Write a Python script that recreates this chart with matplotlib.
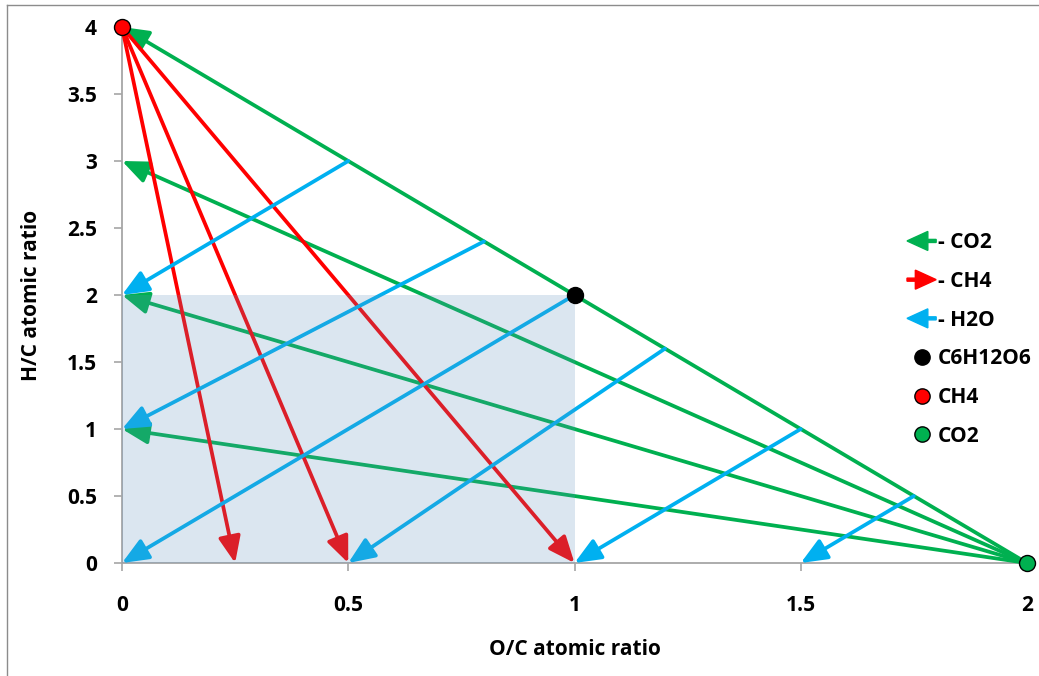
import numpy as np
from matplotlib import pyplot as plt
import matplotlib.patches as mpatches
from matplotlib.lines import Line2D
from matplotlib.legend_handler import HandlerPatch

# CO2 loss: from CO2 point (2, 0) towards the H/C axis
co2_x, co2_y = 2.0, 0.0
co2_end_y = [4, 3, 2, 1]

# CH4 loss: from CH4 point (0, 4) down to the O/C axis
ch4_x, ch4_y = 0.0, 4.0
ch4_end_x = [0.25, 0.5, 1.0]

# H2O loss
h2o_start_x = [0.5, 0.8, 1.0, 1.2, 1.5, 1.75]
h2o_start_y = [3.0, 2.4, 2.0, 1.6, 1.0, 0.5]
h2o_end_x = [0.0, 0.0, 0.0, 0.5, 1.0, 1.5]
h2o_end_y = [2.0, 1.0, 0.0, 0.0, 0.0, 0.0]

# glucose point and shaded box
glu_x, glu_y = 1.0, 2.0

xticks = [0, 0.5, 1, 1.5, 2]
xlabels = ['0', '0.5', '1', '1.5', '2']
yticks = [0, 0.5, 1, 1.5, 2, 2.5, 3, 3.5, 4]
ylabels = ['0', '0.5', '1', '1.5', '2', '2.5', '3', '3.5', '4']

green = '#00B050'
red = '#FF0000'
blue = '#00B0F0'
gray = '#A6A6A6'

plt.rcParams['font.family'] = ['Open Sans', 'DejaVu Sans']
plt.rcParams['font.weight'] = 'bold'
fs = 15

fig = plt.figure(figsize=(10.39, 6.76), dpi=100)
ax = fig.add_axes([122 / 1039, 113 / 676, 905 / 1039, 536 / 676])
ax.set_xlim(0, 2)
ax.set_ylim(0, 4)

astyle = '-|>,head_length=1.0,head_width=0.42'


def arrow(x0, y0, x1, y1, col):
    ax.annotate('', xy=(x1, y1), xytext=(x0, y0),
                arrowprops=dict(arrowstyle=astyle, color=col, lw=2.7,
                                mutation_scale=16, shrinkA=0, shrinkB=0),
                annotation_clip=False, zorder=3)


for ye in co2_end_y:
    arrow(co2_x, co2_y, 0, ye, green)
for xe in ch4_end_x:
    arrow(ch4_x, ch4_y, xe, 0, red)
for xs, ys, xe, ye in zip(h2o_start_x, h2o_start_y, h2o_end_x, h2o_end_y):
    arrow(xs, ys, xe, ye, blue)

ax.add_patch(mpatches.Rectangle((0, 0), glu_x, glu_y, facecolor=(95 / 255, 145 / 255, 190 / 255),
                                alpha=0.22, edgecolor='none', zorder=4))

ax.plot([glu_x], [glu_y], 'o', color='black', ms=11.5, zorder=6, clip_on=False)
ax.plot([ch4_x], [ch4_y], 'o', color=red, mec='black', mew=1, ms=11.5, zorder=6, clip_on=False)
ax.plot([co2_x], [co2_y], 'o', color=green, mec='black', mew=1, ms=11.5, zorder=6, clip_on=False)

for s in ['top', 'right']:
    ax.spines[s].set_visible(False)
for s in ['left', 'bottom']:
    ax.spines[s].set_color(gray)
    ax.spines[s].set_linewidth(1.3)
ax.tick_params(direction='out', length=6, width=1.2, color=gray, labelsize=fs)
ax.tick_params(axis='x', pad=17)
ax.tick_params(axis='y', pad=12)
ax.set_xticks(xticks, xlabels)
ax.set_yticks(yticks, ylabels)

ax.set_xlabel('O/C atomic ratio', fontsize=fs, fontweight='bold')
ax.set_ylabel('H/C atomic ratio', fontsize=fs, fontweight='bold')
ax.xaxis.set_label_coords(0.5, -0.142)
ax.yaxis.set_label_coords(-0.088, 0.5)


# legend with arrow glyphs
def left_arrow(legend, orig_handle, xdescent, ydescent, width, height, fontsize):
    return mpatches.FancyArrow(width, height / 2, -width, 0, width=2.2, head_width=13.7,
                               head_length=15, length_includes_head=True)


def right_arrow(legend, orig_handle, xdescent, ydescent, width, height, fontsize):
    return mpatches.FancyArrow(0, height / 2, width, 0, width=2.2, head_width=13.7,
                               head_length=15, length_includes_head=True)


h_co2 = mpatches.Patch(color=green, label='- CO2')
h_ch4 = mpatches.Patch(color=red, label='- CH4')
h_h2o = mpatches.Patch(color=blue, label='- H2O')
h_glu = Line2D([], [], ls='none', marker='o', color='black', ms=11, label='C6H12O6')
h_pch4 = Line2D([], [], ls='none', marker='o', color=red, mec='black', mew=1, ms=11, label='CH4')
h_pco2 = Line2D([], [], ls='none', marker='o', color=green, mec='black', mew=1, ms=11, label='CO2')

fig.legend(handles=[h_co2, h_ch4, h_h2o, h_glu, h_pch4, h_pco2],
           handler_map={h_co2: HandlerPatch(patch_func=left_arrow),
                        h_ch4: HandlerPatch(patch_func=right_arrow),
                        h_h2o: HandlerPatch(patch_func=left_arrow)},
           loc='center left', bbox_to_anchor=(907 / 1039, 1 - 339.5 / 676),
           frameon=False, fontsize=fs, handlelength=1.4, handletextpad=0.08,
           labelspacing=0.85, borderpad=0, borderaxespad=0)

# chart area border (left and top edges)
fig.add_artist(Line2D([7 / 1039, 7 / 1039], [0, 1 - 5 / 676], color='#8C8C8C', lw=1))
fig.add_artist(Line2D([7 / 1039, 1], [1 - 5 / 676, 1 - 5 / 676], color='#8C8C8C', lw=1))

fig.savefig('out.png', dpi=100)
